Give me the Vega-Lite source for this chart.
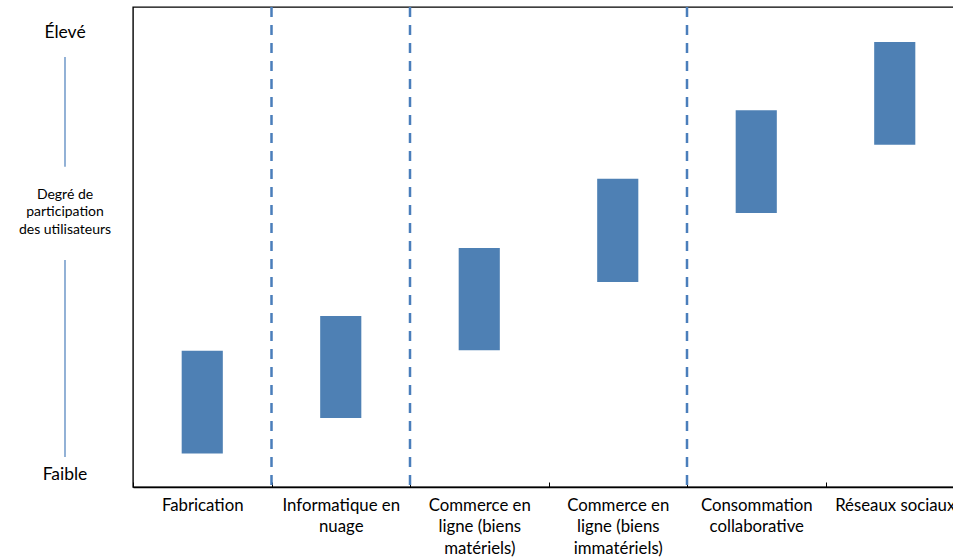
{
  "$schema": "https://vega.github.io/schema/vega-lite/v6.json",
  "autosize": {"type": "none"},
  "padding": {"left": 0, "top": 7, "right": 953, "bottom": 552},
  "background": "white",
  "config": {
    "font": "Lato",
    "view": {"stroke": null},
    "concat": {"spacing": 3}
  },
  "bounds": "flush",
  "datasets": {
    "bars": [
      {"secteur": "Fabrication", "bas": 7.0, "haut": 28.4},
      {"secteur": "Informatique en nuage", "bas": 14.4, "haut": 35.6},
      {"secteur": "Commerce en ligne (biens matériels)", "bas": 28.5, "haut": 49.8},
      {"secteur": "Commerce en ligne (biens immatériels)", "bas": 42.7, "haut": 64.2},
      {"secteur": "Consommation collaborative", "bas": 57.1, "haut": 78.5},
      {"secteur": "Réseaux sociaux", "bas": 71.3, "haut": 92.7}
    ],
    "separateurs": [
      {"secteur": "Informatique en nuage"},
      {"secteur": "Commerce en ligne (biens matériels)"},
      {"secteur": "Consommation collaborative"}
    ],
    "extremes": [
      {"texte": "Élevé", "niveau": 94.5},
      {"texte": "Faible", "niveau": 2.4}
    ],
    "titre": [
      {"texte": "Degré de\nparticipation\ndes utilisateurs", "niveau": 60.8}
    ],
    "segments": [
      {"de": 89.6, "a": 66.7},
      {"de": 47.3, "a": 6.25}
    ]
  },
  "hconcat": [
    {
      "width": 130,
      "height": 480,
      "layer": [
        {
          "data": {"name": "segments"},
          "mark": {"type": "rule", "color": "#4a7ebb", "strokeWidth": 1.2},
          "encoding": {
            "x": {"datum": "annotation", "type": "nominal", "scale": {"type": "point"}, "axis": null},
            "y": {"field": "de", "type": "quantitative", "scale": {"domain": [0, 100]}, "axis": null},
            "y2": {"field": "a"}
          }
        },
        {
          "data": {"name": "extremes"},
          "mark": {"type": "text", "fontSize": 17.5, "color": "#000", "baseline": "middle", "align": "center"},
          "encoding": {
            "x": {"datum": "annotation", "type": "nominal", "scale": {"type": "point"}, "axis": null},
            "y": {"field": "niveau", "type": "quantitative", "scale": {"domain": [0, 100]}, "axis": null},
            "text": {"field": "texte"}
          }
        },
        {
          "data": {"name": "titre"},
          "mark": {"type": "text", "fontSize": 14, "color": "#000", "baseline": "middle", "align": "center", "lineBreak": "\n", "lineHeight": 17.2},
          "encoding": {
            "x": {"datum": "annotation", "type": "nominal", "scale": {"type": "point"}, "axis": null},
            "y": {"field": "niveau", "type": "quantitative", "scale": {"domain": [0, 100]}, "axis": null},
            "text": {"field": "texte"}
          }
        }
      ]
    },
    {
      "width": 831,
      "height": 480,
      "view": {"stroke": "#000", "strokeWidth": 1.4},
      "layer": [
        {
          "data": {"name": "bars"},
          "mark": {"type": "bar", "color": "#4e80b4", "width": {"band": 0.297}},
          "encoding": {
            "x": {
              "field": "secteur",
              "type": "nominal",
              "sort": null,
              "scale": {"paddingInner": 0, "paddingOuter": 0},
              "title": null,
              "axis": {
                "orient": "bottom",
                "domainColor": "#000",
                "domainWidth": 1.4,
                "tickBand": "extent",
                "tickSize": -5,
                "tickColor": "#000",
                "tickWidth": 1,
                "labelAngle": 0,
                "labelFontSize": 16.8,
                "labelColor": "#000",
                "labelAlign": "center",
                "labelBaseline": "top",
                "labelPadding": 15,
                "labelLineHeight": 21.7,
                "labelOverlap": false,
                "labelBound": false,
                "labelLimit": 300,
                "labelExpr": "datum.label == 'Informatique en nuage' ? ['Informatique en', 'nuage'] : datum.label == 'Commerce en ligne (biens matériels)' ? ['Commerce en', 'ligne (biens', 'matériels)'] : datum.label == 'Commerce en ligne (biens immatériels)' ? ['Commerce en', 'ligne (biens', 'immatériels)'] : datum.label == 'Consommation collaborative' ? ['Consommation', 'collaborative'] : datum.label"
              }
            },
            "y": {"field": "bas", "type": "quantitative", "scale": {"domain": [0, 100]}, "axis": null},
            "y2": {"field": "haut"}
          }
        },
        {
          "data": {"name": "separateurs"},
          "mark": {"type": "rule", "color": "#4a7ebb", "strokeWidth": 2.5, "strokeDash": [10, 8]},
          "encoding": {
            "x": {"field": "secteur", "type": "nominal", "sort": null, "bandPosition": 0}
          }
        }
      ]
    }
  ]
}
